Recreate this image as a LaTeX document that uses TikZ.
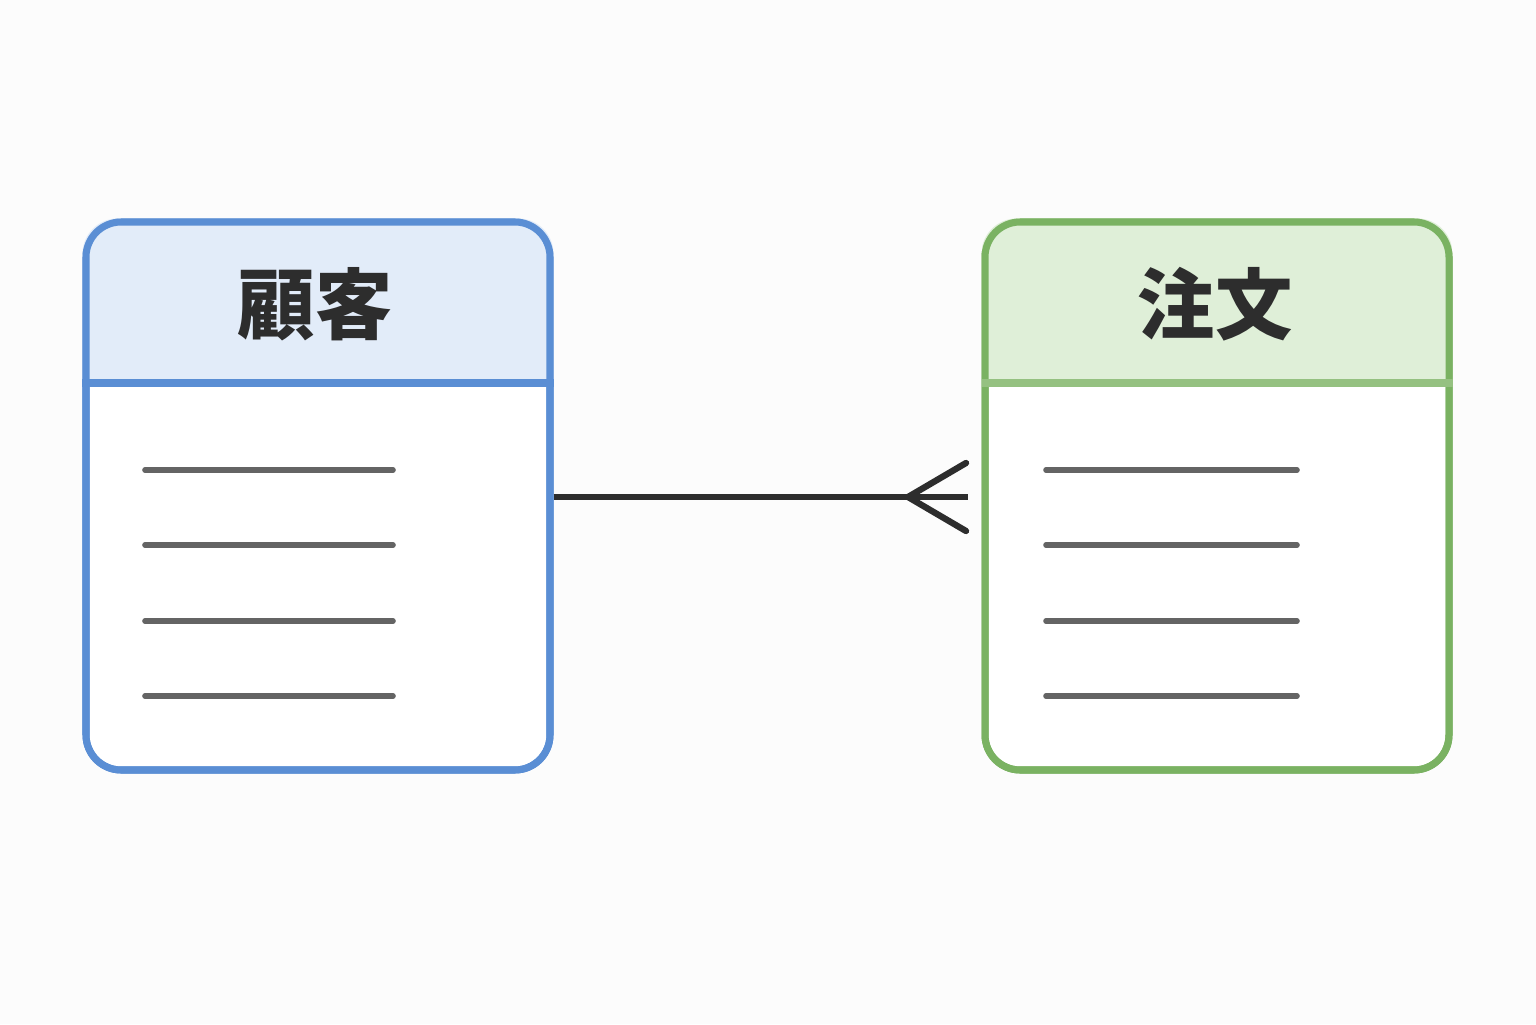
\documentclass[tikz,border=0pt]{standalone}
\usepackage{fontspec}
\newfontfamily\cjk{Noto Sans CJK JP}
\usetikzlibrary{calc,positioning}
\definecolor{custblue}{RGB}{90,142,212}
\definecolor{custbluebg}{RGB}{226,236,249}
\definecolor{ordgreen}{RGB}{122,178,98}
\definecolor{ordgreenbg}{RGB}{223,239,216}
\definecolor{rowgray}{RGB}{100,100,100}
\definecolor{linkgray}{RGB}{45,45,45}
\tikzset{
  entity/.style={draw=#1,line width=2pt,rounded corners=10pt,minimum width=4.64cm,minimum height=5.48cm},
  row/.style={rowgray,line width=1.6pt,line cap=round},
  title/.style={font=\cjk\bfseries\fontsize{22}{26}\selectfont,text=linkgray}
}
\begin{document}
\begin{tikzpicture}
\useasboundingbox (0,0) rectangle (15.36,10.24);
\fill[white!99!black] (0,0) rectangle (15.36,10.24);

% entities
\node[entity=custblue,fill=white] (cust) at (3.18,5.28) {};
\node[entity=ordgreen,fill=white] (ord) at (12.17,5.28) {};

% headers
\begin{scope}
\clip[rounded corners=10pt] (cust.south west) rectangle (cust.north east);
\fill[custbluebg] (cust.north west) rectangle ($(cust.east)+(0,1.13)$);
\end{scope}
\begin{scope}
\clip[rounded corners=10pt] (ord.south west) rectangle (ord.north east);
\fill[ordgreenbg] (ord.north west) rectangle ($(ord.east)+(0,1.13)$);
\end{scope}
\node[entity=custblue] at (cust) {};
\node[entity=ordgreen] at (ord) {};
\draw[custblue,line width=2pt] ($(cust.west)+(0,1.13)$) -- ($(cust.east)+(0,1.13)$);
\draw[ordgreen!80!white,line width=2pt] ($(ord.west)+(0,1.13)$) -- ($(ord.east)+(0,1.13)$);
\node[title] (custname) at (3.15,7.2) {顧客};
\node[title] (ordname) at (12.15,7.2) {注文};

% attribute rows
\foreach \y in {5.54,4.79,4.03,3.28}{
  \draw[row] (1.45,\y) -- (3.93,\y);
  \draw[row] (10.46,\y) -- (12.97,\y);
}

% relationship
\coordinate (foot) at (9.68,5.27);
\coordinate (fork) at (9.08,5.27);
\draw[linkgray,line width=1.8pt] (cust.east |- foot) -- (foot);
\draw[linkgray,line width=1.8pt,line cap=round] (9.66,5.61) -- (fork) -- (9.66,4.93);
\end{tikzpicture}
\end{document}
